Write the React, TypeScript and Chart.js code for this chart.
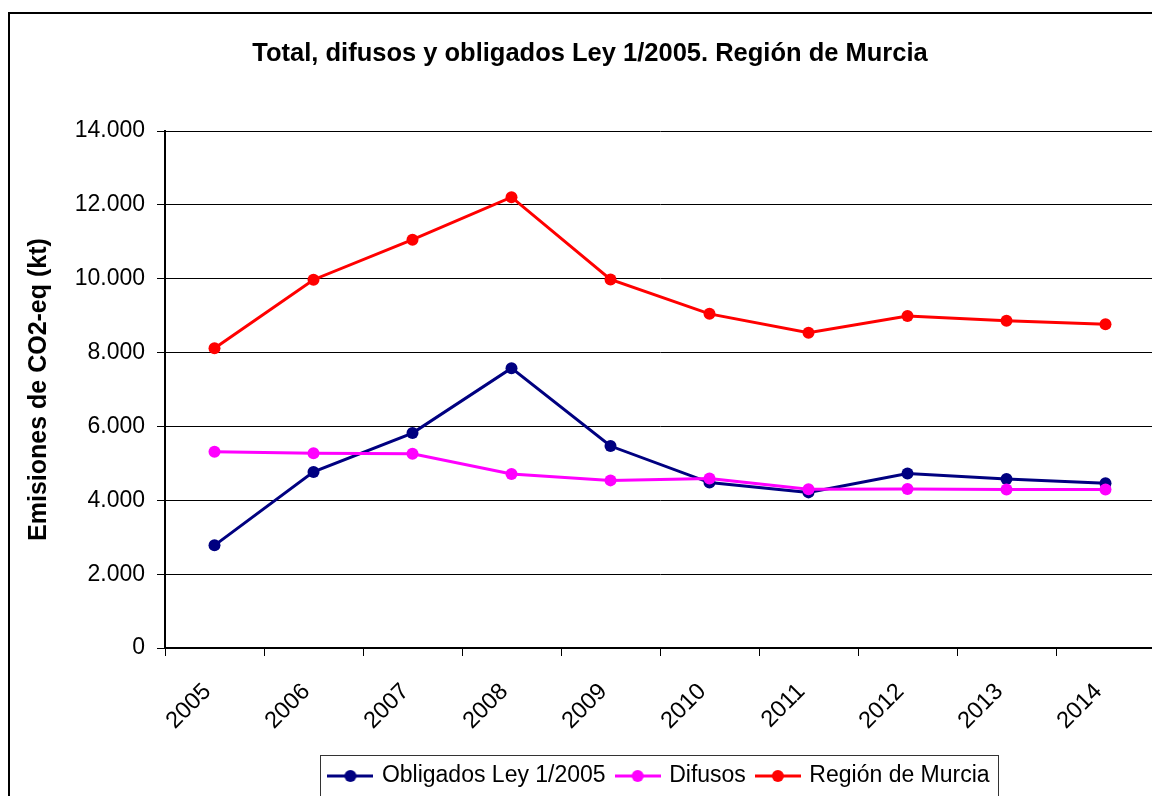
import React, { useEffect, useRef } from "react";
import { Chart, registerables } from "chart.js";

Chart.register(...registerables);

const FAMILY = "'Liberation Sans', Arial, sans-serif";

const years = ["2005", "2006", "2007", "2008", "2009", "2010", "2011", "2012", "2013", "2014"];
const obligados = [2780, 4770, 5820, 7580, 5470, 4480, 4215, 4725, 4575, 4460];
const difusos = [5316, 5272, 5262, 4711, 4540, 4590, 4300, 4305, 4296, 4296];
const region = [8120, 9975, 11060, 12210, 9980, 9050, 8537, 8990, 8861, 8771];

const seriesNames = ["Obligados Ley 1/2005", "Difusos", "Región de Murcia"];
const seriesColors = ["#000080", "#FF00FF", "#FF0000"];

const chartTitle = "Total, difusos y obligados Ley 1/2005. Región de Murcia";
const yAxisTitle = "Emisiones de CO2-eq (kt)";
const yMin = 0;
const yMax = 14000;
const yStep = 2000;

function formatThousands(v: number): string {
  const s = Math.round(v).toString();
  return s.replace(/\B(?=(\d{3})+(?!\d))/g, ".");
}

function makeMarker(color: string): HTMLCanvasElement {
  const c = document.createElement("canvas");
  c.width = 46;
  c.height = 14;
  const g = c.getContext("2d")!;
  g.strokeStyle = color;
  g.lineWidth = 3;
  g.beginPath();
  g.moveTo(0, 7);
  g.lineTo(46, 7);
  g.stroke();
  g.fillStyle = color;
  g.beginPath();
  g.arc(23, 7, 6, 0, Math.PI * 2);
  g.fill();
  return c;
}

const legendBorder = {
  id: "legendBorder",
  afterDraw(chart: any) {
    const lg = chart.legend;
    const hb = lg && lg.legendHitBoxes;
    if (!hb || !hb.length) return;
    const first = hb[0];
    const last = hb[hb.length - 1];
    const left = first.left - 10;
    const right = last.left + last.width + 9;
    const cy = first.top + 11.5;
    const top = cy - 21;
    const ctx = chart.ctx;
    ctx.save();
    ctx.strokeStyle = "#333";
    ctx.lineWidth = 1;
    ctx.strokeRect(Math.round(left) + 0.5, Math.round(top) + 0.5, Math.round(right - left), chart.height - top + 20);
    ctx.restore();
  },
};

export default function App() {
  const ref = useRef<HTMLCanvasElement | null>(null);

  useEffect(() => {
    if (!ref.current) return;
    const markers = seriesColors.map(makeMarker);
    const dataSets = [obligados, difusos, region];
    const chart = new Chart(ref.current, {
      type: "line",
      data: {
        labels: years,
        datasets: dataSets.map((d, i) => ({
          label: seriesNames[i],
          data: d,
          yAxisID: "y",
          borderColor: seriesColors[i],
          backgroundColor: seriesColors[i],
          borderWidth: 3,
          pointRadius: 6,
          pointHoverRadius: 6,
          pointBorderWidth: 0,
          pointBackgroundColor: seriesColors[i],
          tension: 0,
          fill: false,
          order: 2 - i,
        })),
      },
      options: {
        animation: false,
        responsive: false,
        devicePixelRatio: 1,
        layout: { padding: { left: 0, right: 0, top: 0, bottom: 16.5 } },
        plugins: {
          tooltip: { enabled: false },
          title: {
            display: true,
            text: chartTitle,
            color: "#000",
            font: { size: 25.5, weight: "bold", family: FAMILY },
            padding: { top: 24.5, bottom: 62 },
          },
          legend: {
            display: true,
            position: "bottom",
            fullSize: false,
            labels: {
              usePointStyle: true,
              pointStyleWidth: 40,
              padding: 12,
              color: "#000",
              font: { size: 23, family: FAMILY },
              generateLabels: (c: any) =>
                c.data.datasets.map((ds: any, i: number) => ({
                  text: ds.label,
                  pointStyle: markers[i],
                  fillStyle: seriesColors[i],
                  strokeStyle: seriesColors[i],
                  lineWidth: 0,
                  hidden: false,
                  datasetIndex: i,
                  fontColor: "#000",
                })),
            },
          },
        },
        scales: {
          x: {
            type: "category",
            offset: true,
            grid: {
              offset: true,
              drawOnChartArea: false,
              drawTicks: true,
              tickLength: 8,
              color: "#000",
              lineWidth: 1,
            },
            border: { display: true, color: "#000", width: 2 },
            ticks: {
              autoSkip: false,
              minRotation: 45,
              maxRotation: 45,
              padding: 22,
              labelOffset: -7,
              color: "#000",
              font: { size: 23.5, family: FAMILY },
            },
            afterFit: (s: any) => {
              s.height = 104.5;
            },
          },
          y: {
            min: yMin,
            max: yMax,
            ticks: {
              stepSize: yStep,
              padding: 12,
              color: "#000",
              font: { size: 23, family: FAMILY },
              callback: (v: any) => formatThousands(Number(v)),
            },
            grid: { color: "#000", lineWidth: 1, tickLength: 8, drawTicks: true },
            border: { display: true, color: "#000", width: 2 },
            title: {
              display: true,
              text: yAxisTitle,
              color: "#000",
              font: { size: 25, weight: "bold", family: FAMILY },
              padding: { top: 14, bottom: 0 },
            },
            afterFit: (s: any) => {
              s.width = 155;
            },
          },
          yRightSpace: {
            type: "linear",
            position: "right",
            display: true,
            min: 0,
            max: 1,
            grid: { display: false, drawTicks: false },
            border: { display: false },
            ticks: { display: false },
            afterFit: (s: any) => {
              s.width = 15;
            },
          },
        },
      } as any,
      plugins: [legendBorder],
    });
    return () => chart.destroy();
  }, []);

  return (
    <div
      style={{
        position: "absolute",
        left: 0,
        top: 0,
        width: 1152,
        height: 796,
        overflow: "hidden",
        background: "#fff",
      }}
    >
      <div
        style={{
          position: "absolute",
          left: 8,
          top: 12,
          width: 1200,
          height: 900,
          border: "2px solid #000",
        }}
      />
      <canvas
        ref={ref}
        width={1160}
        height={800}
        style={{ position: "absolute", left: 10, top: 14 }}
      />
    </div>
  );
}
